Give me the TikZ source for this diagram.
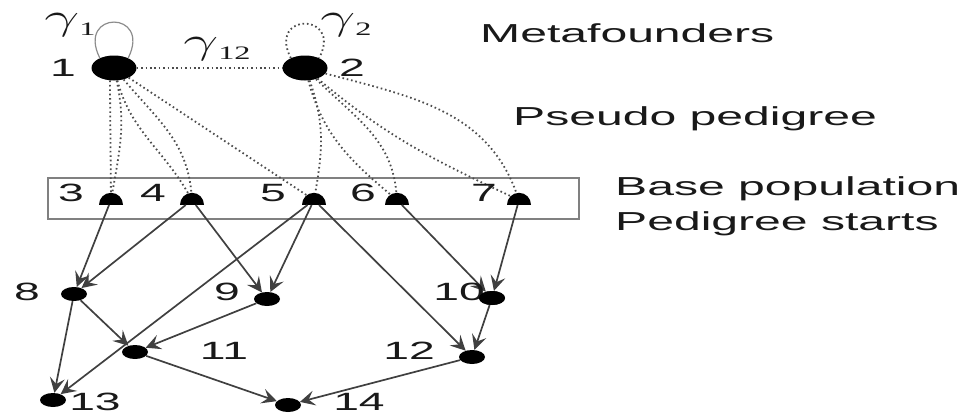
\documentclass[tikz,border=0pt]{standalone}
\usepackage{fontspec}
\setmainfont{Liberation Sans}
\newfontfamily\lab[FakeStretch=1.85]{Liberation Sans}
\newfontfamily\grk[FakeStretch=1.7]{Liberation Serif}
\usetikzlibrary{shapes.geometric,arrows.meta}
\newcommand\gsub[1]{\raisebox{-6pt}{\grk\fontsize{19}{19}\selectfont #1}}
\newcommand\ggam{\scalebox{2.5}[1.5]{$\gamma$}}
\begin{document}
\begin{tikzpicture}[x=1pt,y=1pt,
  mf/.style={ellipse, fill=black, minimum width=45pt, minimum height=25pt, inner sep=0pt},
  basenode/.style={semicircle, fill=black, minimum width=24pt, inner sep=0pt, anchor=chord center},
  ind/.style={ellipse, fill=black, minimum width=26pt, minimum height=14pt, inner sep=0pt},
  num/.style={font=\lab\fontsize{25}{30}\selectfont, inner sep=0pt, text=black!90},
  txt/.style={font=\lab\fontsize{26}{30}\selectfont, inner sep=0pt, text=black!90, anchor=base west},
  gam/.style={font=\fontsize{28}{30}\selectfont, inner sep=0pt, text=black!90},
  arr/.style={draw=black!75, line width=1.7pt, -{Stealth[length=15pt,width=15pt,inset=6pt]}},
  dots/.style={draw=black!70, line width=1.8pt, dash pattern=on 1.6pt off 2.8pt},
  boxline/.style={draw=black!50, line width=1.6pt}]
\useasboundingbox (0,0) rectangle (965,-415);

% metafounders
\node[mf] (n1) at (114,-68) {};
\node[mf] (n2) at (305,-68) {};
% base population
\node[basenode] (n3) at (111,-205) {};
\node[basenode] (n4) at (192,-205) {};
\node[basenode] (n5) at (314,-205) {};
\node[basenode] (n6) at (397,-205) {};
\node[basenode] (n7) at (519,-205) {};
% pedigree
\node[ind] (n8) at (74,-294) {};
\node[ind] (n9) at (267,-299) {};
\node[ind] (n10) at (492,-298) {};
\node[ind] (n11) at (135,-352) {};
\node[ind] (n12) at (472,-357) {};
\node[ind] (n13) at (53,-400) {};
\node[ind] (n14) at (288,-405) {};

% box
\node[boxline, draw, minimum width=531pt, minimum height=41pt, inner sep=0pt, anchor=north west] (box) at (47,-177) {};

% loops
\draw[draw=black!45, line width=1.2pt] (n1.145) .. controls +(-24,48) and +(24,48) .. (n1.35);
\draw[dots] (n2.145) .. controls +(-24,46) and +(24,46) .. (n2.35);
\draw[dots] (n1) -- (n2);

% pseudo pedigree
\draw[dots] (n1.252) -- (n3);
\draw[dots] (n1) to[out=-78,in=80] (n3);
\draw[dots] (n1) to[out=-75,in=120] (n4);
\draw[dots] (n1) to[out=-50,in=95] (n4);
\draw[dots] (n1) -- (n5);
\draw[dots] (n2) to[out=-70,in=80] (n5);
\draw[dots] (n2) to[out=-75,in=140] (n6);
\draw[dots] (n2) to[out=-45,in=95] (n6);
\draw[dots] (n2) to[out=-40,in=155] (n7);
\draw[dots] (n2) to[out=-15,in=110] (n7);

% arrows
\draw[arr] (n3) -- (n8);
\draw[arr] (n4) -- (n8);
\draw[arr] (n4) -- (n9);
\draw[arr] (n5) -- (n9);
\draw[arr] (n5) -- (n13);
\draw[arr] (n5) -- (n12);
\draw[arr] (n6) -- (n10);
\draw[arr] (n7) -- (n10);
\draw[arr] (n8) -- (n11);
\draw[arr] (n8) -- (n13);
\draw[arr] (n9) -- (n11);
\draw[arr] (n10) -- (n12);
\draw[arr] (n11) -- (n14);
\draw[arr] (n12) -- (n14);

% gamma labels
\node[gam] (g1) at (70,-25) {\ggam\gsub{1}};
\node[gam] (g12) at (217,-49) {\ggam\gsub{12}};
\node[gam] (g2) at (346,-25) {\ggam\gsub{2}};

% numbers
\node[num] (l1) at (63,-68) {1};
\node[num] (l2) at (352,-68) {2};
\node[num] (l3) at (71,-193) {3};
\node[num] (l4) at (153,-193) {4};
\node[num] (l5) at (273,-193) {5};
\node[num] (l6) at (363,-193) {6};
\node[num] (l7) at (484,-193) {7};
\node[num] (l8) at (27,-292) {8};
\node[num] (l9) at (227,-292) {9};
\node[num] (l10) at (459,-292) {10};
\node[num] (l11) at (224,-351) {11};
\node[num] (l12) at (409,-351) {12};
\node[num] (l13) at (95,-402) {13};
\node[num] (l14) at (359,-402) {14};
\node[ind] at (492,-298) {};

% right texts
\node[txt] (t1) at (480,-42) {Metafounders};
\node[txt] (t2) at (513,-125) {Pseudo pedigree};
\node[txt] (t3) at (615,-195) {Base population};
\node[txt] (t4) at (615,-230) {Pedigree starts};
\end{tikzpicture}
\end{document}
